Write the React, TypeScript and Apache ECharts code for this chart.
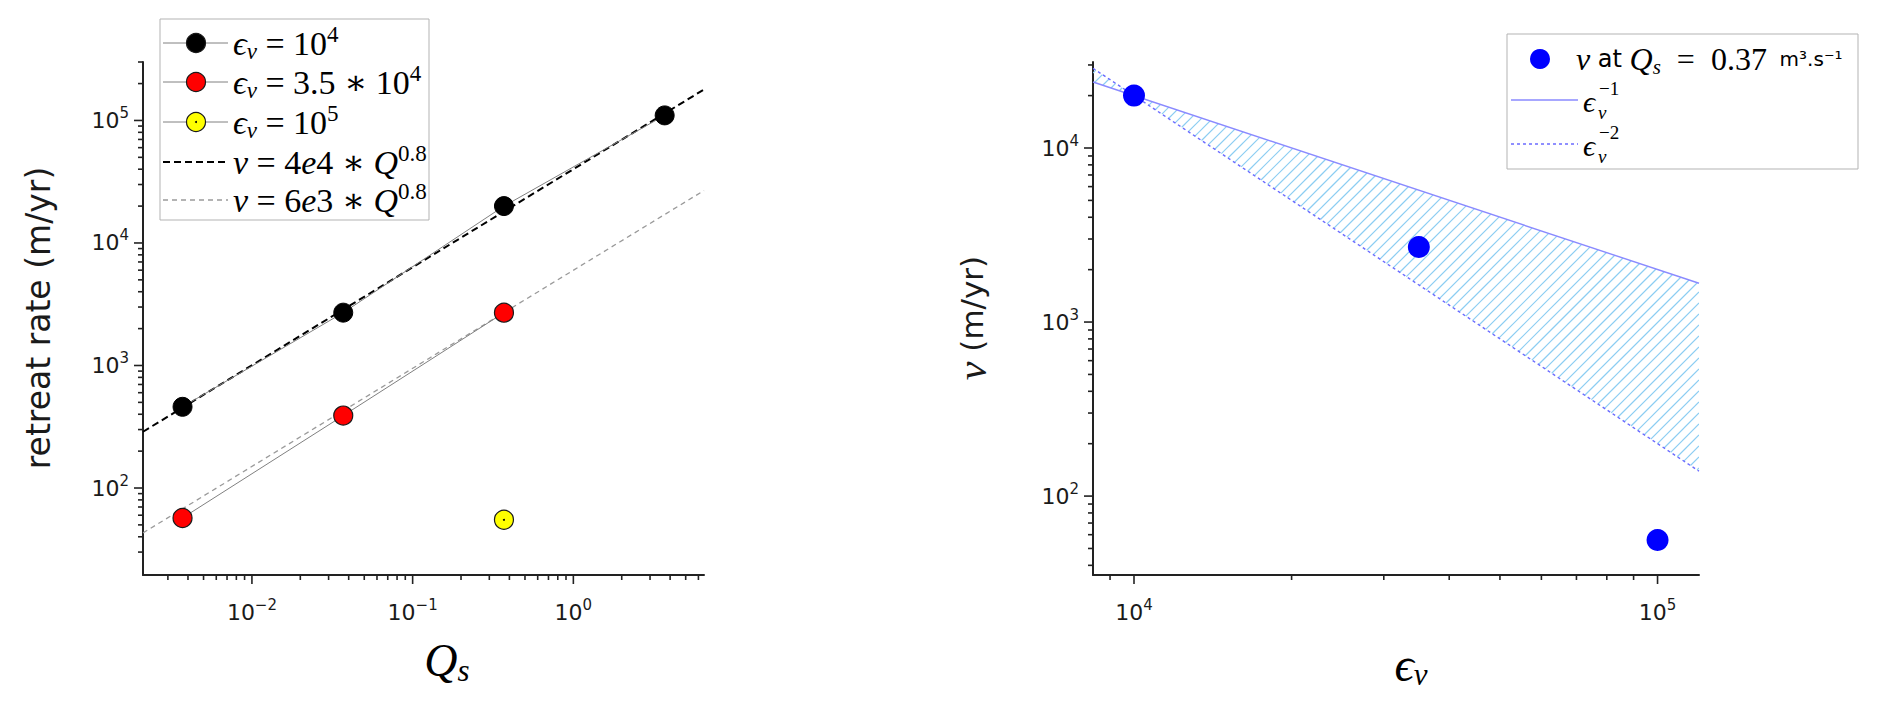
import React, { useEffect, useRef } from "react";
import * as echarts from "echarts";

// ---------------- data ----------------
// left panel: retreat rate vs Qs
const qsEps1e4 = [0.0037, 0.037, 0.37, 3.7];
const vEps1e4 = [460, 2700, 20000, 110000];
const qsEps35e4 = [0.0037, 0.037, 0.37];
const vEps35e4 = [57, 390, 2700];
const qsEps1e5 = [0.37];
const vEps1e5 = [55];
const fitQ = [0.0021, 6.5];
const fitHigh = [288, 179000]; // v = 4e4 * Q^0.8 at the two ends
const fitLow = [43, 26800]; // v = 6e3 * Q^0.8 at the two ends

// right panel: v vs eps_v
const epsV = [10000, 35000, 100000];
const vAtQs = [20000, 2700, 56];
const epsSpan = [8350, 120000];
const invEps1 = [23950, 1670];
const invEps2 = [28700, 139];

// axis ranges
const leftXRange = [0.0021, 6.5];
const leftYRange = [19.5, 300000];
const rightXRange = [8350, 120000];
const rightYRange = [35.2, 31200];

// tick values
const leftXMajor = [0.01, 0.1, 1];
const leftXMinor = [
  0.003, 0.004, 0.005, 0.006, 0.007, 0.008, 0.009,
  0.02, 0.03, 0.04, 0.05, 0.06, 0.07, 0.08, 0.09,
  0.2, 0.3, 0.4, 0.5, 0.6, 0.7, 0.8, 0.9,
  2, 3, 4, 5, 6,
];
const leftYMajor = [100, 1000, 10000, 100000];
const leftYMinor = [
  30, 40, 50, 60, 70, 80, 90,
  200, 300, 400, 500, 600, 700, 800, 900,
  2000, 3000, 4000, 5000, 6000, 7000, 8000, 9000,
  20000, 30000, 40000, 50000, 60000, 70000, 80000, 90000,
  200000, 300000,
];
const rightXMajor = [10000, 100000];
const rightXMinor = [9000, 20000, 30000, 40000, 50000, 60000, 70000, 80000, 90000];
const rightYMajor = [100, 1000, 10000];
const rightYMinor = [
  40, 50, 60, 70, 80, 90,
  200, 300, 400, 500, 600, 700, 800, 900,
  2000, 3000, 4000, 5000, 6000, 7000, 8000, 9000,
  20000, 30000,
];

// texts
const leftLegendLabels = [
  "{mi|ϵ}{sub|v}{mr| = 10}{sup|4}",
  "{mi|ϵ}{sub|v}{mr| = 3.5 ∗ 10}{sup|4}",
  "{mi|ϵ}{sub|v}{mr| = 10}{sup|5}",
  "{mi|v}{mr| = 4}{mi|e}{mr|4 ∗ }{mi|Q}{sup|0.8}",
  "{mi|v}{mr| = 6}{mi|e}{mr|3 ∗ }{mi|Q}{sup|0.8}",
];
const rightLegendFirst = "{mi|v}{sans| at }{mi|Q}{sub|s}{mr|  =  0.37}{unit|  m³.s⁻¹}";
const rightLegendExps = ["−1", "−2"];
const leftYTitle = "retreat rate (m/yr)";
const rightYTitleUnit = " (m/yr)";

// ---------------- styling helpers ----------------
const SERIF = '"Liberation Serif", "DejaVu Serif", serif';
const SANS = '"DejaVu Sans", "Noto Sans", sans-serif';
const AX = "#222222";

const zip = (a: number[], b: number[]) => a.map((v, i) => [v, b[i]]);

const powLabel = (v: number) => {
  const e = Math.log10(v);
  const r = Math.round(e);
  if (Math.abs(e - r) > 1e-6) return "";
  return `{b|10}{e|${r < 0 ? "\u2212" + -r : r}}`;
};

function logAxis(gridIndex: number, range: number[], isX: boolean) {
  return {
    type: "log",
    logBase: 10,
    gridIndex,
    min: range[0],
    max: range[1],
    axisLine: { show: true, onZero: false, lineStyle: { color: AX, width: 2 } },
    axisTick: { show: false },
    minorTick: { show: false },
    splitLine: { show: false },
    axisLabel: {
      formatter: powLabel,
      margin: isX ? 22 : 14,
      rich: {
        b: { fontFamily: SANS, fontSize: 22, lineHeight: 30, color: "#1a1a1a" },
        e: { fontFamily: SANS, fontSize: 15, lineHeight: 16, verticalAlign: "top", color: "#1a1a1a" },
      },
    },
  };
}

function tickSeries(idx: number, dim: "x" | "y", values: number[], anchor: number, len: number) {
  return {
    type: "custom",
    xAxisIndex: idx,
    yAxisIndex: idx,
    clip: false,
    silent: true,
    z: 6,
    data: values.map((v) => (dim === "x" ? [v, anchor] : [anchor, v])),
    renderItem: (_p: any, api: any) => {
      const p = api.coord([api.value(0), api.value(1)]);
      const shape =
        dim === "x"
          ? { x1: p[0], y1: p[1], x2: p[0], y2: p[1] + len }
          : { x1: p[0] - len, y1: p[1], x2: p[0], y2: p[1] };
      return { type: "line", shape, style: { stroke: AX, lineWidth: 1.6 } };
    },
  };
}

const hatchSeries = {
  type: "custom",
  xAxisIndex: 1,
  yAxisIndex: 1,
  clip: true,
  silent: true,
  z: 1,
  data: [[epsSpan[0], invEps1[0], invEps2[0], epsSpan[1], invEps1[1], invEps2[1]]],
  renderItem: (_p: any, api: any) => {
    const p1L = api.coord([api.value(0), api.value(1)]);
    const p2L = api.coord([api.value(0), api.value(2)]);
    const p1R = api.coord([api.value(3), api.value(4)]);
    const p2R = api.coord([api.value(3), api.value(5)]);
    const xL = p1L[0];
    const xR = p1R[0];
    const s1 = (p1R[1] - p1L[1]) / (xR - xL);
    const s2 = (p2R[1] - p2L[1]) / (xR - xL);
    const sums = [p1L, p2L, p1R, p2R].map((p: number[]) => p[0] + p[1]);
    const cMin = Math.min(...sums);
    const cMax = Math.max(...sums);
    const step = 11;
    const children: any[] = [];
    for (let c = Math.ceil(cMin / step) * step; c <= cMax; c += step) {
      const r1 = (c - p1L[1] + s1 * xL) / (1 + s1);
      const r2 = (c - p2L[1] + s2 * xL) / (1 + s2);
      const a = Math.max(xL, Math.min(r1, r2));
      const b = Math.min(xR, Math.max(r1, r2));
      if (b - a > 0.5) {
        children.push({
          type: "line",
          shape: { x1: a, y1: c - a, x2: b, y2: c - b },
          style: { stroke: "#8ccdf2", lineWidth: 1.2 },
        });
      }
    }
    return { type: "group", children };
  },
};

// ---------------- graphic (legends & titles) ----------------
function buildGraphic() {
  const g: any[] = [];
  const legRich = {
    mi: { fontFamily: SERIF, fontStyle: "italic", fontSize: 34, lineHeight: 40, fill: "#000" },
    mr: { fontFamily: SERIF, fontSize: 34, lineHeight: 40, fill: "#000" },
    sub: { fontFamily: SERIF, fontStyle: "italic", fontSize: 23, lineHeight: 24, verticalAlign: "bottom", fill: "#000" },
    sup: { fontFamily: SERIF, fontSize: 23, lineHeight: 22, verticalAlign: "top", fill: "#000" },
  };
  // left legend
  g.push({
    type: "rect",
    z: 100,
    shape: { x: 160, y: 19, width: 269, height: 201 },
    style: { fill: "#ffffff", stroke: "#b3b3b3", lineWidth: 1 },
  });
  const rowsY = [43, 82, 122, 162, 200];
  const samples = [
    { kind: "m", fill: "#000000" },
    { kind: "m", fill: "#ff0000" },
    { kind: "m", fill: "#ffff00", dot: true },
    { kind: "d", color: "#000000", width: 2, dash: [7, 4] },
    { kind: "d", color: "#9a9a9a", width: 1.3, dash: [5, 4] },
  ];
  samples.forEach((s: any, i) => {
    const y = rowsY[i];
    if (s.kind === "m") {
      g.push({ type: "line", z: 101, shape: { x1: 163, y1: y, x2: 228, y2: y }, style: { stroke: "#808080", lineWidth: 1 } });
      g.push({ type: "circle", z: 102, shape: { cx: 196, cy: y, r: 9.5 }, style: { fill: s.fill, stroke: "#1a1a1a", lineWidth: 1.2 } });
      if (s.dot) g.push({ type: "circle", z: 103, shape: { cx: 196, cy: y, r: 1 }, style: { fill: "#000" } });
    } else {
      g.push({ type: "line", z: 101, shape: { x1: 163, y1: y, x2: 228, y2: y }, style: { stroke: s.color, lineWidth: s.width, lineDash: s.dash } });
    }
    g.push({
      type: "text",
      z: 103,
      x: 233,
      y,
      style: { text: leftLegendLabels[i], rich: legRich, align: "left", verticalAlign: "middle", fill: "#000", fontSize: 34, fontFamily: SERIF },
    });
  });

  // right legend
  g.push({
    type: "rect",
    z: 100,
    shape: { x: 1507, y: 34, width: 351, height: 135 },
    style: { fill: "#ffffff", stroke: "#b3b3b3", lineWidth: 1 },
  });
  g.push({ type: "circle", z: 102, shape: { cx: 1540, cy: 59, r: 10 }, style: { fill: "#0000ff" } });
  g.push({
    type: "text",
    z: 103,
    x: 1576,
    y: 59,
    style: {
      text: rightLegendFirst,
      align: "left",
      verticalAlign: "middle",
      fill: "#000",
      fontFamily: SERIF,
      fontSize: 32,
      rich: {
        mi: { fontFamily: SERIF, fontStyle: "italic", fontSize: 32, lineHeight: 36, fill: "#000" },
        mr: { fontFamily: SERIF, fontSize: 32, lineHeight: 36, fill: "#000" },
        sans: { fontFamily: SANS, fontSize: 24, lineHeight: 36, fill: "#000" },
        sub: { fontFamily: SERIF, fontStyle: "italic", fontSize: 21, lineHeight: 22, verticalAlign: "bottom", fill: "#000" },
        unit: { fontFamily: SANS, fontSize: 20, lineHeight: 36, fill: "#000" },
      },
    },
  });
  const lineRows = [100, 144];
  lineRows.forEach((y, i) => {
    g.push({
      type: "line",
      z: 101,
      shape: { x1: 1511, y1: y, x2: 1578, y2: y },
      style: { stroke: i === 0 ? "#8a8aff" : "#6b6bff", lineWidth: 1.4, lineDash: i === 0 ? null : [3, 3] },
    });
    g.push({
      type: "text",
      z: 103,
      x: 1583,
      y: y + 1,
      style: { text: "ϵ", fontFamily: SERIF, fontStyle: "italic", fontSize: 30, lineHeight: 20, fill: "#000", align: "left", verticalAlign: "middle" },
    });
    g.push({
      type: "text",
      z: 103,
      x: 1599,
      y: y - 12,
      style: { text: rightLegendExps[i], fontFamily: SERIF, fontSize: 19, lineHeight: 14, fill: "#000", align: "left", verticalAlign: "middle" },
    });
    g.push({
      type: "text",
      z: 103,
      x: 1598,
      y: y + 12,
      style: { text: "v", fontFamily: SERIF, fontStyle: "italic", fontSize: 19, lineHeight: 12, fill: "#000", align: "left", verticalAlign: "middle" },
    });
  });

  // axis titles
  g.push({
    type: "text",
    x: 38,
    y: 318,
    rotation: Math.PI / 2,
    style: { text: leftYTitle, fontFamily: SANS, fontSize: 33, fill: "#1a1a1a", align: "center", verticalAlign: "middle" },
  });
  g.push({
    type: "text",
    x: 447,
    y: 660,
    style: {
      text: "{q|Q}{s|s}",
      align: "center",
      verticalAlign: "middle",
      fill: "#000",
      rich: {
        q: { fontFamily: SERIF, fontStyle: "italic", fontSize: 46, lineHeight: 52, fill: "#000" },
        s: { fontFamily: SERIF, fontStyle: "italic", fontSize: 31, lineHeight: 30, verticalAlign: "bottom", fill: "#000" },
      },
    },
  });
  g.push({
    type: "text",
    x: 972,
    y: 318,
    rotation: Math.PI / 2,
    style: {
      text: "{v|v}{u|" + rightYTitleUnit + "}",
      align: "center",
      verticalAlign: "middle",
      fill: "#1a1a1a",
      rich: {
        v: { fontFamily: SERIF, fontStyle: "italic", fontSize: 42, lineHeight: 42, fill: "#1a1a1a" },
        u: { fontFamily: SANS, fontSize: 31, lineHeight: 42, fill: "#1a1a1a" },
      },
    },
  });
  g.push({
    type: "text",
    x: 1411,
    y: 664,
    style: {
      text: "{e|ϵ}{s|v}",
      align: "center",
      verticalAlign: "middle",
      fill: "#000",
      rich: {
        e: { fontFamily: SERIF, fontStyle: "italic", fontSize: 48, lineHeight: 52, fill: "#000" },
        s: { fontFamily: SERIF, fontStyle: "italic", fontSize: 31, lineHeight: 30, verticalAlign: "bottom", fill: "#000" },
      },
    },
  });
  return g;
}

function buildOption() {
  return {
    animation: false,
    backgroundColor: "#ffffff",
    grid: [
      { left: 143, top: 62, width: 561, height: 513, containLabel: false },
      { left: 1093, top: 62, width: 606, height: 513, containLabel: false },
    ],
    xAxis: [logAxis(0, leftXRange, true), logAxis(1, rightXRange, true)],
    yAxis: [logAxis(0, leftYRange, false), logAxis(1, rightYRange, false)],
    graphic: buildGraphic(),
    series: [
      // left panel
      {
        type: "line",
        xAxisIndex: 0,
        yAxisIndex: 0,
        data: zip(fitQ, fitHigh),
        symbol: "none",
        silent: true,
        lineStyle: { color: "#000000", width: 2, type: [7, 4] },
        z: 2,
      },
      {
        type: "line",
        xAxisIndex: 0,
        yAxisIndex: 0,
        data: zip(fitQ, fitLow),
        symbol: "none",
        silent: true,
        lineStyle: { color: "#9a9a9a", width: 1.3, type: [5, 4] },
        z: 2,
      },
      {
        type: "line",
        xAxisIndex: 0,
        yAxisIndex: 0,
        data: zip(qsEps1e4, vEps1e4),
        symbol: "circle",
        symbolSize: 19,
        showSymbol: true,
        silent: true,
        lineStyle: { color: "#808080", width: 1 },
        itemStyle: { color: "#000000", borderColor: "#000000", borderWidth: 1, opacity: 1 },
        z: 3,
      },
      {
        type: "line",
        xAxisIndex: 0,
        yAxisIndex: 0,
        data: zip(qsEps35e4, vEps35e4),
        symbol: "circle",
        symbolSize: 19,
        showSymbol: true,
        silent: true,
        lineStyle: { color: "#808080", width: 1 },
        itemStyle: { color: "#ff0000", borderColor: "#1a1a1a", borderWidth: 1.2, opacity: 1 },
        z: 3,
      },
      {
        type: "scatter",
        xAxisIndex: 0,
        yAxisIndex: 0,
        data: zip(qsEps1e5, vEps1e5),
        symbolSize: 19,
        silent: true,
        itemStyle: { color: "#ffff00", borderColor: "#1a1a1a", borderWidth: 1.2, opacity: 1 },
        z: 3,
      },
      {
        type: "scatter",
        xAxisIndex: 0,
        yAxisIndex: 0,
        data: zip(qsEps1e5, vEps1e5),
        symbolSize: 2,
        silent: true,
        itemStyle: { color: "#000000", opacity: 1 },
        z: 4,
      },
      tickSeries(0, "x", leftXMajor, leftYRange[0], 9),
      tickSeries(0, "x", leftXMinor, leftYRange[0], 5),
      tickSeries(0, "y", leftYMajor, leftXRange[0], 9),
      tickSeries(0, "y", leftYMinor, leftXRange[0], 5),
      // right panel
      hatchSeries,
      {
        type: "line",
        xAxisIndex: 1,
        yAxisIndex: 1,
        data: zip(epsSpan, invEps1),
        symbol: "none",
        silent: true,
        lineStyle: { color: "#8a8aff", width: 1.4 },
        z: 2,
      },
      {
        type: "line",
        xAxisIndex: 1,
        yAxisIndex: 1,
        data: zip(epsSpan, invEps2),
        symbol: "none",
        silent: true,
        lineStyle: { color: "#6b6bff", width: 1.4, type: [3, 3] },
        z: 2,
      },
      {
        type: "scatter",
        xAxisIndex: 1,
        yAxisIndex: 1,
        data: zip(epsV, vAtQs),
        symbolSize: 22,
        silent: true,
        itemStyle: { color: "#0000ff", opacity: 1 },
        z: 4,
      },
      tickSeries(1, "x", rightXMajor, rightYRange[0], 9),
      tickSeries(1, "x", rightXMinor, rightYRange[0], 5),
      tickSeries(1, "y", rightYMajor, rightXRange[0], 9),
      tickSeries(1, "y", rightYMinor, rightXRange[0], 5),
    ],
  };
}

export default function App() {
  const ref = useRef<HTMLDivElement>(null);
  useEffect(() => {
    if (!ref.current) return;
    const chart = echarts.init(ref.current, null, { renderer: "svg" });
    chart.setOption(buildOption() as any);
    return () => chart.dispose();
  }, []);
  return (
    <div
      ref={ref}
      style={{ position: "fixed", left: 0, top: 0, width: 1892, height: 706, background: "#ffffff" }}
    />
  );
}
